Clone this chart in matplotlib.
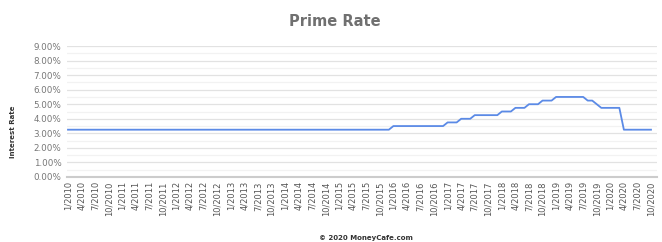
import matplotlib
matplotlib.use("Agg")
import matplotlib.pyplot as plt
from matplotlib.ticker import MultipleLocator, FuncFormatter

# Monthly prime rate (month-start), 1/2010 .. 10/2020
rates_2010 = [3.25, 3.25, 3.25, 3.25, 3.25, 3.25, 3.25, 3.25, 3.25, 3.25, 3.25, 3.25]
rates_2011 = [3.25, 3.25, 3.25, 3.25, 3.25, 3.25, 3.25, 3.25, 3.25, 3.25, 3.25, 3.25]
rates_2012 = [3.25, 3.25, 3.25, 3.25, 3.25, 3.25, 3.25, 3.25, 3.25, 3.25, 3.25, 3.25]
rates_2013 = [3.25, 3.25, 3.25, 3.25, 3.25, 3.25, 3.25, 3.25, 3.25, 3.25, 3.25, 3.25]
rates_2014 = [3.25, 3.25, 3.25, 3.25, 3.25, 3.25, 3.25, 3.25, 3.25, 3.25, 3.25, 3.25]
rates_2015 = [3.25, 3.25, 3.25, 3.25, 3.25, 3.25, 3.25, 3.25, 3.25, 3.25, 3.25, 3.25]
rates_2016 = [3.50, 3.50, 3.50, 3.50, 3.50, 3.50, 3.50, 3.50, 3.50, 3.50, 3.50, 3.50]
rates_2017 = [3.75, 3.75, 3.75, 4.00, 4.00, 4.00, 4.25, 4.25, 4.25, 4.25, 4.25, 4.25]
rates_2018 = [4.50, 4.50, 4.50, 4.75, 4.75, 4.75, 5.00, 5.00, 5.00, 5.25, 5.25, 5.25]
rates_2019 = [5.50, 5.50, 5.50, 5.50, 5.50, 5.50, 5.50, 5.25, 5.25, 5.00, 4.75, 4.75]
rates_2020 = [4.75, 4.75, 4.75, 3.25, 3.25, 3.25, 3.25, 3.25, 3.25, 3.25]

rates = (rates_2010 + rates_2011 + rates_2012 + rates_2013 + rates_2014 + rates_2015
         + rates_2016 + rates_2017 + rates_2018 + rates_2019 + rates_2020)

tick_labels = [
    "1/2010", "4/2010", "7/2010", "10/2010",
    "1/2011", "4/2011", "7/2011", "10/2011",
    "1/2012", "4/2012", "7/2012", "10/2012",
    "1/2013", "4/2013", "7/2013", "10/2013",
    "1/2014", "4/2014", "7/2014", "10/2014",
    "1/2015", "4/2015", "7/2015", "10/2015",
    "1/2016", "4/2016", "7/2016", "10/2016",
    "1/2017", "4/2017", "7/2017", "10/2017",
    "1/2018", "4/2018", "7/2018", "10/2018",
    "1/2019", "4/2019", "7/2019", "10/2019",
    "1/2020", "4/2020", "7/2020", "10/2020",
]

title = "Prime Rate"
y_title = "Interest Rate"
footer = "\u00a9 2020 MoneyCafe.com"

W, H = 662, 242
fig = plt.figure(figsize=(W / 100, H / 100), dpi=100)
ax = fig.add_axes([67 / W, 1 - 177 / H, (657 - 67) / W, (177 - 46) / H])

x = list(range(len(rates)))
ax.plot(x, rates, color="#5b8ae6", linewidth=1.3, solid_joinstyle="round", zorder=3)

ax.set_ylim(0, 9)
ax.set_xlim(-0.22, 130.33)
ax.yaxis.set_major_locator(MultipleLocator(1))
ax.yaxis.set_minor_locator(MultipleLocator(0.5))
ax.yaxis.set_major_formatter(FuncFormatter(lambda v, p: f"{v:.2f}%"))
ax.grid(axis="y", which="major", color="#e2e2e2", linewidth=0.9, zorder=0)
ax.grid(axis="y", which="minor", color="#f2f2f2", linewidth=0.9, zorder=0)

ax.set_xticks(x[::3])
ax.set_xticklabels(tick_labels, rotation=90, fontsize=6, color="#555555")
ax.tick_params(axis="y", which="both", labelsize=6.3, labelcolor="#777777", length=0, pad=4)
ax.tick_params(axis="x", which="both", length=0, pad=3)

for s in ["top", "right", "left"]:
    ax.spines[s].set_visible(False)
ax.spines["bottom"].set_color("#cccccc")
ax.spines["bottom"].set_linewidth(1.5)

fig.text(335 / W, 1 - 21 / H, title, ha="center", va="center",
         fontsize=10.5, fontweight="bold", color="#707070")
fig.text(13 / W, 1 - 132 / H, y_title, ha="center", va="center", rotation=90,
         fontsize=5, fontweight="bold", color="#333333")
fig.text(366 / W, 1 - 238 / H, footer, ha="center", va="center",
         fontsize=5, fontweight="bold", color="#333333")

fig.savefig("out.png", dpi=100)
